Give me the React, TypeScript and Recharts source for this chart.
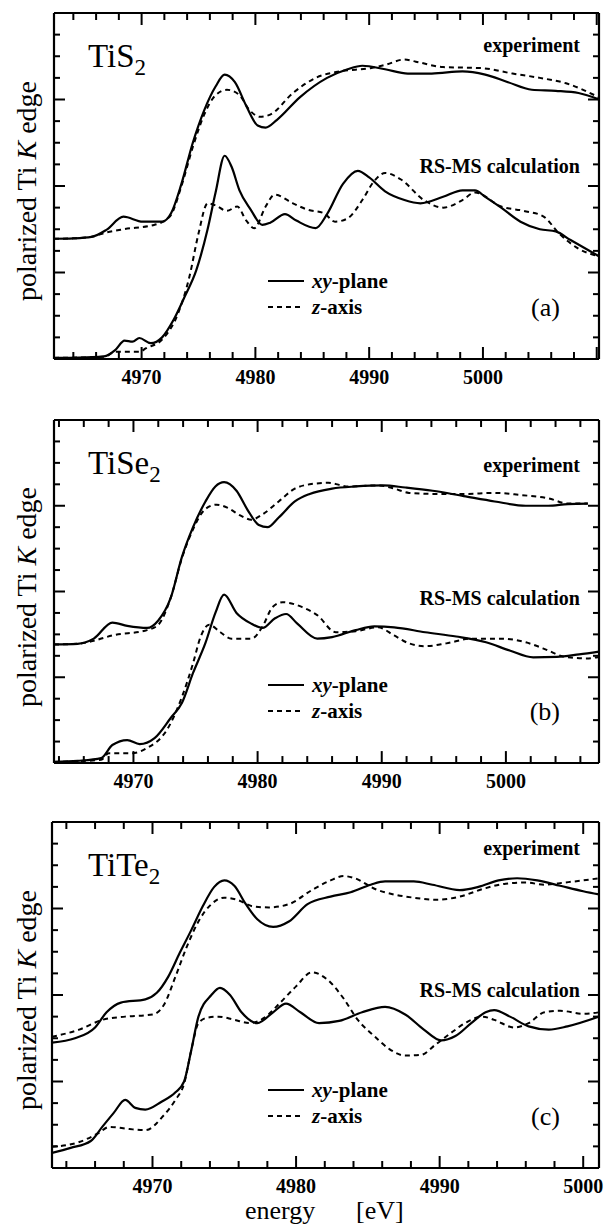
import React from 'react';
import { LineChart, Line, XAxis, YAxis, Legend, ReferenceLine } from 'recharts';

const FONT = '"Liberation Serif", "DejaVu Serif", serif';

// ---- TiS2 (a) ----
const tis2ExpXyE = [4962.3, 4964.0, 4965.6, 4966.9, 4968.4, 4970.1, 4971.8, 4972.6, 4973.5, 4974.5, 4975.5, 4976.5, 4977.3, 4978.2, 4979.2, 4980.2, 4980.9, 4981.9, 4983.9, 4986.3, 4988.1, 4989.4, 4991.4, 4993.4, 4995.5, 4998.2, 5000.2, 5002.2, 5004.3, 5006.4, 5008.4, 5010.2];
const tis2ExpXyV = [5.56, 5.58, 5.65, 5.97, 6.58, 6.35, 6.35, 6.75, 8.1, 10.0, 11.5, 12.6, 13.15, 12.8, 11.7, 10.8, 10.7, 11.06, 12.1, 13.0, 13.4, 13.56, 13.4, 13.2, 13.2, 13.3, 13.15, 12.8, 12.45, 12.4, 12.3, 12.0];
const tis2ExpZE = [4962.3, 4964.0, 4965.6, 4966.9, 4968.4, 4971.1, 4972.5, 4973.5, 4974.5, 4975.5, 4976.5, 4977.5, 4978.6, 4979.5, 4980.4, 4981.3, 4983.3, 4985.3, 4987.4, 4990.1, 4991.4, 4993.1, 4994.1, 4996.5, 4999.9, 5002.6, 5005.0, 5007.3, 5010.2];
const tis2ExpZV = [5.56, 5.58, 5.65, 5.85, 6.0, 6.2, 6.6, 8.0, 9.8, 11.3, 12.2, 12.45, 12.2, 11.5, 11.2, 11.3, 12.3, 13.0, 13.3, 13.45, 13.6, 13.85, 13.75, 13.5, 13.45, 13.2, 13.0, 12.75, 12.1];
const tis2CalcXyE = [4962.3, 4964.5, 4966.7, 4967.7, 4968.5, 4969.2, 4969.8, 4970.8, 4971.8, 4972.8, 4973.8, 4974.8, 4975.8, 4976.5, 4977.3, 4977.9, 4978.6, 4979.6, 4980.6, 4981.3, 4982.6, 4983.6, 4985.3, 4986.3, 4987.7, 4989.0, 4990.0, 4991.4, 4993.1, 4994.5, 4996.5, 4998.2, 4999.3, 5000.2, 5001.6, 5003.3, 5005.0, 5006.4, 5007.7, 5010.2];
const tis2CalcXyV = [0.05, 0.06, 0.12, 0.42, 0.85, 0.8, 0.97, 0.73, 1.0, 1.8, 2.9, 4.1, 6.0, 7.7, 9.4, 8.9, 7.8, 6.9, 6.2, 6.3, 6.7, 6.4, 6.05, 6.7, 8.1, 8.7, 8.4, 7.75, 7.35, 7.2, 7.5, 7.8, 7.8, 7.5, 7.0, 6.35, 6.0, 5.9, 5.5, 4.75];
const tis2CalcZE = [4962.3, 4966.7, 4967.7, 4969.8, 4970.4, 4971.8, 4973.2, 4974.2, 4975.0, 4975.8, 4976.5, 4977.5, 4978.4, 4979.2, 4979.9, 4980.9, 4981.7, 4983.3, 4984.6, 4986.0, 4987.0, 4988.1, 4989.4, 4990.4, 4991.4, 4992.8, 4994.8, 4996.5, 4998.2, 4999.3, 5001.6, 5003.6, 5005.3, 5006.7, 5008.4, 5010.2];
const tis2CalcZV = [0.05, 0.1, 0.33, 0.33, 0.5, 0.9, 2.1, 3.8, 5.8, 7.2, 7.1, 6.85, 7.05, 6.4, 6.05, 7.05, 7.6, 7.2, 6.9, 6.75, 6.35, 6.5, 7.35, 8.2, 8.6, 8.3, 7.35, 7.0, 7.35, 7.7, 7.05, 6.85, 6.6, 5.8, 5.1, 4.75];

// ---- TiSe2 (b) ----
const tise2ExpXyE = [4963.6, 4965.5, 4966.8, 4968.3, 4969.5, 4971.1, 4972.0, 4973.0, 4973.9, 4974.8, 4975.8, 4976.6, 4977.3, 4978.3, 4979.2, 4980.1, 4980.8, 4981.7, 4983.0, 4984.2, 4986.0, 4987.9, 4990.1, 4991.9, 4994.1, 4996.6, 4999.1, 5001.6, 5003.4, 5005.0, 5006.6];
const tise2ExpXyV = [5.53, 5.56, 5.8, 6.55, 6.4, 6.3, 6.65, 7.7, 9.6, 11.0, 12.2, 12.9, 13.1, 12.7, 11.8, 11.1, 11.0, 11.45, 12.2, 12.55, 12.8, 12.9, 12.95, 12.85, 12.7, 12.45, 12.2, 12.0, 12.0, 12.08, 12.1];
const tise2ExpZE = [4963.6, 4965.5, 4966.8, 4968.3, 4971.1, 4972.0, 4973.0, 4973.9, 4974.8, 4975.8, 4976.7, 4977.6, 4978.6, 4979.5, 4980.4, 4981.7, 4983.0, 4984.2, 4985.7, 4987.3, 4989.7, 4991.0, 4992.2, 4994.5, 4996.6, 4999.1, 5001.2, 5003.4, 5005.0, 5006.6];
const tise2ExpZV = [5.53, 5.56, 5.7, 5.95, 6.2, 6.45, 7.7, 9.55, 10.9, 11.85, 12.05, 11.9, 11.55, 11.35, 11.6, 12.2, 12.8, 13.0, 13.07, 12.9, 12.95, 12.8, 12.6, 12.55, 12.55, 12.6, 12.5, 12.35, 12.1, 12.1];
const tise2CalcXyE = [4963.6, 4965.5, 4967.4, 4968.3, 4969.5, 4970.5, 4971.7, 4973.0, 4973.9, 4974.8, 4975.8, 4976.6, 4977.3, 4978.3, 4979.5, 4980.4, 4981.4, 4982.3, 4983.2, 4984.8, 4986.0, 4987.9, 4989.4, 4991.0, 4993.5, 4996.0, 4998.4, 5000.3, 5002.2, 5004.1, 5005.9, 5007.5];
const tise2CalcXyV = [0.05, 0.1, 0.23, 0.84, 1.07, 0.88, 1.16, 2.1, 2.8, 4.2, 5.6, 7.0, 7.85, 7.0, 6.5, 6.3, 6.75, 6.95, 6.5, 5.8, 5.87, 6.2, 6.37, 6.33, 6.1, 5.9, 5.63, 5.25, 4.93, 4.95, 5.07, 5.2];
const tise2CalcZE = [4963.6, 4967.4, 4968.0, 4969.9, 4971.1, 4972.7, 4973.9, 4974.8, 4975.4, 4976.1, 4977.0, 4977.9, 4979.5, 4980.4, 4981.2, 4982.0, 4983.6, 4984.8, 4986.3, 4987.9, 4989.7, 4991.0, 4992.2, 4993.5, 4995.2, 4997.2, 4999.7, 5001.6, 5003.4, 5004.6, 5006.5, 5007.5];
const tise2CalcZV = [0.05, 0.15, 0.46, 0.46, 0.7, 1.55, 3.07, 4.65, 5.87, 6.45, 6.1, 5.8, 5.8, 6.37, 7.27, 7.5, 7.27, 6.9, 6.1, 6.15, 6.33, 5.95, 5.58, 5.45, 5.58, 5.8, 5.8, 5.63, 5.25, 4.97, 4.88, 4.95];

// ---- TiTe2 (c) ----
const tite2ExpXyE = [4963.0, 4964.6, 4966.0, 4966.8, 4967.8, 4969.5, 4970.3, 4971.1, 4971.9, 4972.7, 4973.5, 4974.3, 4975.0, 4975.7, 4976.5, 4977.3, 4978.4, 4979.5, 4980.8, 4982.4, 4983.8, 4985.2, 4986.2, 4988.2, 4989.5, 4991.4, 4992.7, 4994.1, 4995.4, 4996.8, 4998.4, 5000.0, 5001.1];
const tite2ExpXyV = [5.8, 6.0, 6.5, 7.2, 7.65, 7.8, 8.1, 8.85, 9.95, 11.0, 12.1, 13.0, 13.3, 13.05, 12.2, 11.5, 11.15, 11.4, 12.2, 12.55, 12.75, 13.1, 13.25, 13.25, 13.1, 12.85, 13.0, 13.3, 13.4, 13.3, 13.05, 12.8, 12.65];
const tite2ExpZE = [4963.0, 4964.9, 4966.5, 4968.1, 4970.0, 4970.8, 4971.6, 4972.4, 4973.2, 4974.1, 4975.0, 4975.9, 4977.0, 4978.1, 4979.5, 4981.1, 4982.4, 4983.3, 4984.1, 4985.5, 4986.8, 4988.2, 4989.7, 4991.4, 4993.0, 4994.6, 4996.0, 4997.3, 4998.7, 5000.0, 5001.1];
const tite2ExpZV = [6.07, 6.4, 6.85, 7.0, 7.1, 7.55, 8.85, 10.25, 11.4, 12.2, 12.5, 12.4, 12.1, 12.05, 12.2, 12.85, 13.3, 13.5, 13.4, 12.9, 12.65, 12.5, 12.4, 12.55, 12.9, 13.15, 13.2, 13.1, 13.2, 13.3, 13.4];
const tite2CalcXyE = [4963.0, 4964.3, 4965.7, 4966.5, 4967.3, 4968.1, 4968.8, 4969.5, 4970.6, 4971.6, 4972.2, 4972.7, 4973.2, 4974.1, 4974.7, 4975.4, 4976.2, 4977.3, 4978.4, 4979.3, 4980.3, 4981.6, 4983.0, 4984.6, 4986.2, 4987.6, 4988.9, 4990.1, 4991.1, 4992.2, 4993.2, 4993.8, 4994.9, 4996.2, 4997.6, 4998.9, 5001.1];
const tite2CalcXyV = [0.7, 0.93, 1.25, 1.9, 2.55, 3.15, 2.78, 2.7, 3.05, 3.5, 4.0, 5.45, 7.0, 8.0, 8.33, 8.0, 7.2, 6.7, 7.2, 7.6, 7.2, 6.7, 6.8, 7.2, 7.45, 7.1, 6.4, 5.9, 6.1, 6.7, 7.2, 7.3, 7.0, 6.55, 6.4, 6.55, 7.0];
const tite2CalcZE = [4963.0, 4964.9, 4966.2, 4967.0, 4968.4, 4969.5, 4970.8, 4971.6, 4972.2, 4972.7, 4973.2, 4973.8, 4974.6, 4975.7, 4976.8, 4977.8, 4978.9, 4980.0, 4981.1, 4982.2, 4983.3, 4984.3, 4985.5, 4986.5, 4987.6, 4988.7, 4989.7, 4990.8, 4991.9, 4993.0, 4993.8, 4995.2, 4996.2, 4997.3, 4998.4, 5000.0, 5001.1];
const tite2CalcZV = [0.98, 1.2, 1.6, 1.9, 1.8, 1.75, 2.45, 3.15, 3.9, 5.45, 6.7, 6.95, 7.0, 6.85, 6.7, 6.95, 7.65, 8.4, 9.05, 8.7, 7.85, 6.85, 6.07, 5.5, 5.2, 5.23, 5.7, 6.25, 6.75, 7.0, 6.85, 6.5, 6.7, 7.2, 7.27, 7.13, 7.2];

// tick positions and labelled ticks
const range = (a: number, b: number, s: number) => {
  const out: number[] = [];
  for (let v = a; v <= b; v += s) out.push(v);
  return out;
};
const xTicksA = range(4964, 5010, 2);
const xTicksB = range(4964, 5006, 2);
const xTicksC = range(4964, 5000, 2);
const xLabels = [4970, 4980, 4990, 5000];
const yTicks = range(0, 16, 1);

type Pt = { e: number; v: number };
const zip = (es: number[], vs: number[]): Pt[] => es.map((e, i) => ({ e, v: vs[i] }));

const TICK_W = 2;
const TICK_C = '#000';
const MINOR = 7;
const MAJOR = 12;
const Y_UNIT_PX = 21.6; // pixel height of one y unit, used to size bottom ticks

const tickPath = (x: number, y: number, dx: number, dy: number) => `M${x},${y}L${x + dx},${y + dy}`;

const BottomLabel = (p: any) => {
  const val = Number(p.payload?.value);
  if (!xLabels.includes(val)) return <g />;
  return (
    <text x={Number(p.x)} y={Number(p.y) + 25} textAnchor="middle" fontFamily={FONT} fontWeight="bold" fontSize={20} fill="#000">
      {val}
    </text>
  );
};
const TopTick = (p: any) => {
  const val = Number(p.payload?.value);
  const len = val % 10 === 0 ? MAJOR : MINOR;
  return <path d={tickPath(Number(p.x), Number(p.y), 0, len)} stroke={TICK_C} strokeWidth={TICK_W} fill="none" />;
};
const LeftTick = (p: any) => {
  const val = Number(p.payload?.value);
  const len = val % 4 === 0 ? MAJOR - 1 : MINOR - 1;
  return <path d={tickPath(Number(p.x), Number(p.y), len, 0)} stroke={TICK_C} strokeWidth={TICK_W} fill="none" />;
};
const RightTick = (p: any) => {
  const val = Number(p.payload?.value);
  const len = val % 4 === 0 ? MAJOR - 1 : MINOR - 1;
  return <path d={tickPath(Number(p.x), Number(p.y), -len, 0)} stroke={TICK_C} strokeWidth={TICK_W} fill="none" />;
};

const axisStyle = { stroke: '#000', strokeWidth: 2.2 };

const LegendBox = () => (
  <div style={{ fontFamily: FONT, fontSize: 21, fontWeight: 'bold', color: '#000', lineHeight: '26px' }}>
    <div style={{ display: 'flex', alignItems: 'center' }}>
      <svg width={44} height={8}>
        <line x1={0} y1={4} x2={36} y2={4} stroke="#000" strokeWidth={2.2} />
      </svg>
      <span><i>xy</i>-plane</span>
    </div>
    <div style={{ display: 'flex', alignItems: 'center' }}>
      <svg width={44} height={8}>
        <line x1={0} y1={4} x2={36} y2={4} stroke="#000" strokeWidth={2} strokeDasharray="5 4" />
      </svg>
      <span><i>z</i>-axis</span>
    </div>
  </div>
);

type PanelProps = {
  top: number;
  bottom: number;
  left: number;
  right: number;
  domain: [number, number];
  xTicks: number[];
  expXy: Pt[];
  expZ: Pt[];
  calcXy: Pt[];
  calcZ: Pt[];
  formula: string;
  expY: number;
  calcY: number;
  tag: string;
};

const PAD_TOP = 10;
const AXIS_H = 45;

function Panel(props: PanelProps) {
  const { top, bottom, left, right, domain, xTicks } = props;
  const h = bottom - top + PAD_TOP + AXIS_H;
  const rel = (y: number) => y - top + PAD_TOP;
  const lineCommon = { type: 'monotone' as const, dataKey: 'v', stroke: '#000', dot: false, isAnimationActive: false, xAxisId: 'b', yAxisId: 'l' };
  return (
    <div style={{ position: 'absolute', left: 0, top: top - PAD_TOP, width: 604, height: h }}>
      <LineChart width={604} height={h} margin={{ top: PAD_TOP - 1, right: 604 - right - 1, bottom: 0, left: left - 1 }}>
        <XAxis xAxisId="b" type="number" dataKey="e" domain={domain} allowDataOverflow ticks={xTicks} interval={0}
          height={AXIS_H} tickSize={0} tickMargin={0} tickLine={false} axisLine={axisStyle} tick={BottomLabel} />
        <XAxis xAxisId="t" orientation="top" type="number" dataKey="e" domain={domain} allowDataOverflow ticks={xTicks} interval={0}
          height={1} tickSize={0} tickMargin={0} tickLine={false} axisLine={axisStyle} tick={TopTick} />
        <YAxis yAxisId="l" type="number" domain={[0, 16]} allowDataOverflow ticks={yTicks} interval={0}
          width={1} tickSize={0} tickMargin={0} tickLine={false} axisLine={axisStyle} tick={LeftTick} />
        <YAxis yAxisId="r" orientation="right" type="number" domain={[0, 16]} allowDataOverflow ticks={yTicks} interval={0}
          width={1} tickSize={0} tickMargin={0} tickLine={false} axisLine={axisStyle} tick={RightTick} />
        {xTicks.map((t) => (
          <ReferenceLine key={t} xAxisId="b" yAxisId="l" ifOverflow="visible"
            segment={[{ x: t, y: 0 }, { x: t, y: (t % 10 === 0 ? MAJOR : MINOR) / Y_UNIT_PX }]}
            stroke={TICK_C} strokeWidth={TICK_W} />
        ))}
        <Line {...lineCommon} data={props.expXy} strokeWidth={2.2} />
        <Line {...lineCommon} data={props.expZ} strokeWidth={2} strokeDasharray="5 4" />
        <Line {...lineCommon} data={props.calcXy} strokeWidth={2.2} />
        <Line {...lineCommon} data={props.calcZ} strokeWidth={2} strokeDasharray="5 4" />
        <Legend layout="horizontal" verticalAlign="middle" align="center" content={() => <LegendBox />}
          wrapperStyle={{ position: 'absolute', left: 268, top: rel(bottom - 91), width: 200 }} />
      </LineChart>
      <div style={{ position: 'absolute', left: 88, top: rel(top + 25), fontFamily: FONT, fontSize: 33, color: '#000', whiteSpace: 'nowrap' }}>
        {props.formula}<sub style={{ fontSize: 23 }}>2</sub>
      </div>
      <div style={{ position: 'absolute', right: 604 - 580, top: rel(props.expY) - 13, fontFamily: FONT, fontSize: 20, fontWeight: 'bold', color: '#000', whiteSpace: 'nowrap' }}>
        experiment
      </div>
      <div style={{ position: 'absolute', right: 604 - 580, top: rel(props.calcY) - 13, fontFamily: FONT, fontSize: 20, fontWeight: 'bold', color: '#000', whiteSpace: 'nowrap' }}>
        RS-MS calculation
      </div>
      <div style={{ position: 'absolute', right: 604 - 560, top: rel(bottom - 51) - 15, fontFamily: FONT, fontSize: 26, color: '#000' }}>
        ({props.tag})
      </div>
      <div style={{ position: 'absolute', left: 27, top: rel((top + bottom) / 2 + 5), transform: 'translate(-50%, -50%) rotate(-90deg)', fontFamily: FONT, fontSize: 28, color: '#000', whiteSpace: 'nowrap' }}>
        polarized Ti <i>K</i> edge
      </div>
    </div>
  );
}

export default function App() {
  return (
    <div style={{ position: 'relative', width: 604, height: 1224, background: '#fff', overflow: 'hidden' }}>
      <style>{'body{margin:0;background:#fff}'}</style>
      <Panel top={13} bottom={359} left={54} right={599} domain={[4962.3, 5010.2]} xTicks={xTicksA}
        expXy={zip(tis2ExpXyE, tis2ExpXyV)} expZ={zip(tis2ExpZE, tis2ExpZV)}
        calcXy={zip(tis2CalcXyE, tis2CalcXyV)} calcZ={zip(tis2CalcZE, tis2CalcZV)}
        formula="TiS" expY={47} calcY={168} tag="a" />
      <Panel top={420} bottom={763} left={54} right={599} domain={[4963.6, 5007.5]} xTicks={xTicksB}
        expXy={zip(tise2ExpXyE, tise2ExpXyV)} expZ={zip(tise2ExpZE, tise2ExpZV)}
        calcXy={zip(tise2CalcXyE, tise2CalcXyV)} calcZ={zip(tise2CalcZE, tise2CalcZV)}
        formula="TiSe" expY={467} calcY={600} tag="b" />
      <Panel top={822} bottom={1168} left={52} right={599} domain={[4963.0, 5001.1]} xTicks={xTicksC}
        expXy={zip(tite2ExpXyE, tite2ExpXyV)} expZ={zip(tite2ExpZE, tite2ExpZV)}
        calcXy={zip(tite2CalcXyE, tite2CalcXyV)} calcZ={zip(tite2CalcZE, tite2CalcZV)}
        formula="TiTe" expY={850} calcY={992} tag="c" />
      <div style={{ position: 'absolute', left: 245, top: 1198, fontFamily: FONT, fontSize: 26, color: '#000', lineHeight: '26px' }}>energy</div>
      <div style={{ position: 'absolute', left: 356, top: 1198, fontFamily: FONT, fontSize: 26, color: '#000', lineHeight: '26px' }}>[eV]</div>
    </div>
  );
}
